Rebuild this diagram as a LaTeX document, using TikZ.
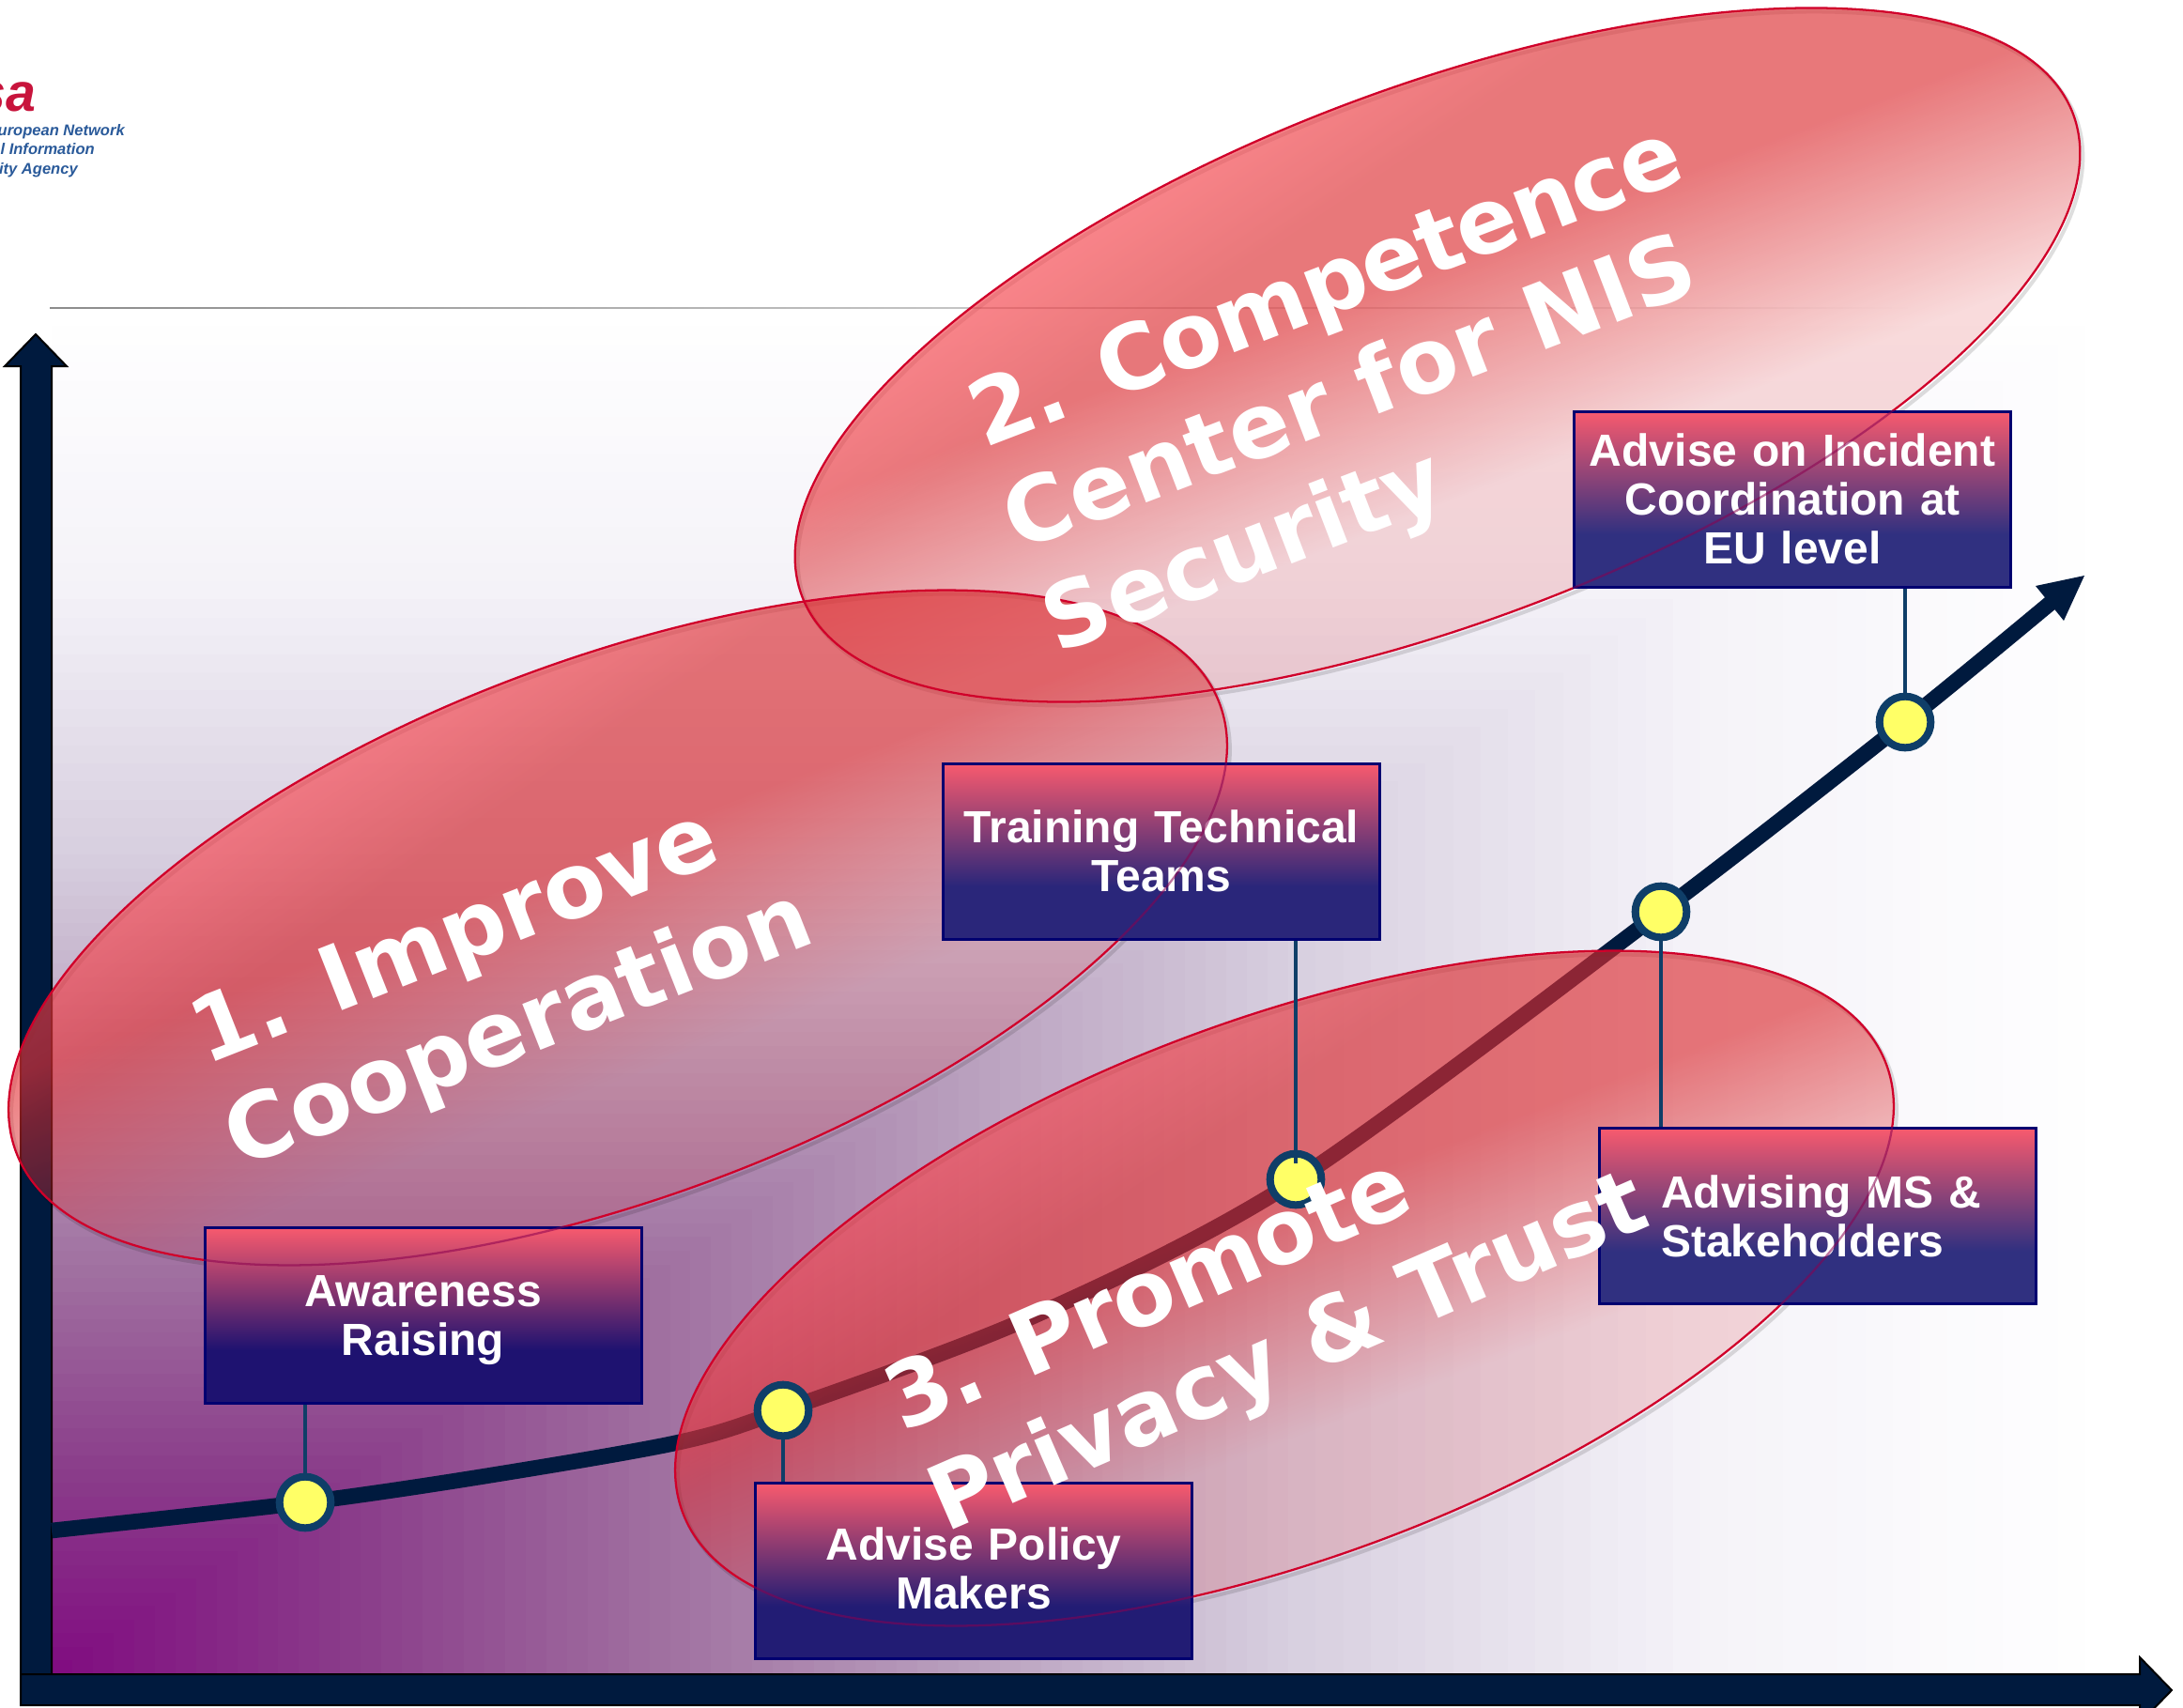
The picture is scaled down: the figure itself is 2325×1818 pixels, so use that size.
\documentclass[tikz,border=0pt]{standalone}
\usepackage{fontspec}
\setmainfont{Liberation Sans}
\newfontfamily\ellfont{DejaVu Sans}
\usetikzlibrary{fadings,calc}
\definecolor{axisnavy}{HTML}{001A3E}
\definecolor{ringblue}{HTML}{0F3E68}
\definecolor{dotyellow}{HTML}{FFFF66}
\definecolor{boxline}{HTML}{000070}
\definecolor{boxtop}{HTML}{F85A6E}
\definecolor{navya}{HTML}{1E1270}
\definecolor{navyb}{HTML}{2A267A}
\definecolor{navyc}{HTML}{303080}
\definecolor{navyd}{HTML}{221C74}
\definecolor{elltop}{HTML}{FF4650}
\definecolor{ellmid}{HTML}{DC2C30}
\definecolor{ellline}{HTML}{D0002A}
\definecolor{ellthru}{HTML}{8A0050}
\definecolor{bga}{RGB}{128,10,128}
\definecolor{bgb}{RGB}{138,60,138}
\definecolor{bgc}{RGB}{160,112,160}
\definecolor{bgd}{RGB}{185,160,190}
\definecolor{bge}{RGB}{214,205,222}
\definecolor{bgf}{RGB}{244,242,248}
\definecolor{logored}{HTML}{C8143C}
\definecolor{logoblue}{HTML}{2A5A9A}
\pgfdeclareverticalshading{boxsha}{100bp}{color(0bp)=(navya);color(40bp)=(navya);color(75bp)=(boxtop);color(100bp)=(boxtop)}
\pgfdeclareverticalshading{boxshb}{100bp}{color(0bp)=(navyb);color(40bp)=(navyb);color(75bp)=(boxtop);color(100bp)=(boxtop)}
\pgfdeclareverticalshading{boxshc}{100bp}{color(0bp)=(navyc);color(40bp)=(navyc);color(75bp)=(boxtop);color(100bp)=(boxtop)}
\pgfdeclareverticalshading{boxshd}{100bp}{color(0bp)=(navyd);color(40bp)=(navyd);color(75bp)=(boxtop);color(100bp)=(boxtop)}
\pgfdeclareverticalshading{ellshade}{100bp}{color(0bp)=(ellmid);color(59bp)=(ellmid);color(67bp)=(elltop);color(100bp)=(elltop)}
\pgfdeclareverticalshading{ellfadeshade}{100bp}{color(0bp)=(pgftransparent!83);color(42bp)=(pgftransparent!83);color(55bp)=(pgftransparent!36);color(100bp)=(pgftransparent!36)}
\pgfdeclarefading{ellfade}{\pgfuseshading{ellfadeshade}}
\tikzset{
  infobox/.style={draw=boxline,line width=2.25pt,inner sep=0pt,text=white,
    font=\bfseries\fontsize{36}{39}\selectfont,
    text width=348.75pt,minimum height=140.25pt,align=center},
  milestone/.style={circle,draw=ringblue,fill=dotyellow,line width=6pt,
    minimum size=41pt,inner sep=0pt},
  stem/.style={draw=ringblue,line width=3.5pt},
  bigword/.style={text=white,align=left,inner sep=0pt,
    font=\ellfont\bfseries\fontsize{72}{87}\selectfont},
  bubble/.style={shading=ellshade,shading angle=34,path fading=ellfade,fading angle=34},
  bubbleline/.style={draw=ellline,line width=1.7pt},
  bubbleshadow/.style={draw=black,line width=3pt,opacity=0.13},
  axisbar/.style={fill=axisnavy,draw=black,line width=1.5pt,line join=miter},
  logoline/.style={anchor=base east,inner sep=0pt,text=logoblue,
    font=\bfseries\itshape\fontsize{12.4}{15}\selectfont}
}
\newcommand\bgband[4]{%
  \foreach \k in {0,...,14}{%
    \pgfmathsetmacro\tv{#2-(#2-#1)*\k/15}%
    \pgfmathsetmacro\pc{100*\k/15}%
    \fill[#3!\pc!#4] (55,1783) rectangle ({55+2195*\tv},{1783-1455*\tv});
  }}
\newcommand\ellpath[5]{(#1,#2) ellipse [x radius=#3,y radius=#4,rotate=#5]}
\newcommand\ellfill[5]{%
  \begin{scope}
    \clip \ellpath{#1}{#2}{#3}{#4}{#5};
    \shade[bubble] (#1,#2) ellipse [x radius=#3+6,y radius=#4+6,rotate=#5];
  \end{scope}}
\newcommand\tracked[2]{{\addfontfeature{LetterSpace=#1}#2}}
\begin{document}
\begin{tikzpicture}[x=0.75pt,y=-0.75pt]
\useasboundingbox (0,0) rectangle (2325,1818);
\fill[white] (0,0) rectangle (2325,1818);
% background
\bgband{0.8}{1.0}{bgf}{white}
\bgband{0.6}{0.8}{bge}{bgf}
\bgband{0.45}{0.6}{bgd}{bge}
\bgband{0.3}{0.45}{bgc}{bgd}
\bgband{0.15}{0.3}{bgb}{bgc}
\bgband{0.0}{0.15}{bga}{bgb}
\shade[left color=gray!90,right color=white] (53,327.4) rectangle (2040,328.6);
% logo
\node[anchor=base east,inner sep=0pt,text=logored,font=\bfseries\itshape\fontsize{43}{43}\selectfont] (logoa) at (39,118) {sa};
\node[logoline] (logob) at (133,144) {uropean Network};
\node[logoline] (logoc) at (101,164) {l Information};
\node[logoline] (logod) at (83,185) {ity Agency};
% axes
\draw[axisbar] (22,1783) -- (22,390) -- (5,390) -- (38,356) -- (71,390) -- (55,390) -- (55,1783) -- cycle;
\draw[axisbar] (22,1783) -- (2279,1783) -- (2279,1765) -- (2313,1800) -- (2279,1835) -- (2279,1816) -- (22,1816) -- cycle;
% curve
\coordinate (curvestart) at (55,1630);
\coordinate (curveend) at (2190,637);
\draw[axisnavy,line width=12.5pt] plot[smooth,tension=0.5] coordinates {(curvestart) (325,1600) (517,1572) (723,1536) (834,1502) (1100,1402) (1380,1257) (1769,971) (2029,769) (curveend)};
\fill[axisnavy] (2220,613) -- (2168,624) -- (2198,661) -- cycle;
% bubbles
\draw[bubbleshadow] \ellpath{661}{992}{684}{287}{20.4};
\draw[bubbleshadow] \ellpath{1534}{382}{724}{284}{20.8};
\draw[bubbleshadow] \ellpath{1371}{1376}{684}{287}{20.4};
\ellfill{658}{988}{684}{287}{20.4}
\ellfill{1531}{378}{724}{284}{20.8}
\ellfill{1368}{1372}{684}{287}{20.4}
\draw[bubbleline] \ellpath{658}{988}{684}{287}{20.4};
\draw[bubbleline] \ellpath{1531}{378}{724}{284}{20.8};
\draw[bubbleline] \ellpath{1368}{1372}{684}{287}{20.4};
% boxes
\node[infobox,shading=boxsha] (aware) at (450.5,1400.5) {\rule{0pt}{33pt}Awareness\\Raising};
\node[infobox,shading=boxshb] (train) at (1237,906.5) {Training Technical\\Teams};
\node[infobox,shading=boxshc] (incid) at (1909,531.5) {Advise on Incident\\Coordination at\\EU level};
\node[infobox,shading=boxshc,align=left] (advis) at (1935.5,1295) {\hspace*{49.5pt}Advising MS \&\\\hspace*{49.5pt}Stakeholders};
\node[infobox,shading=boxshd] (polic) at (1037,1673) {Advise Policy\\Makers\rule[-4.5pt]{0pt}{4.5pt}};
% bubble outlines showing through the boxes
\begin{scope}
  \clip (aware.south west) rectangle (aware.north east)
        (train.south west) rectangle (train.north east)
        (incid.south west) rectangle (incid.north east)
        (advis.south west) rectangle (advis.north east)
        (polic.south west) rectangle (polic.north east);
  \draw[ellthru,line width=1.7pt,opacity=0.55] \ellpath{658}{988}{684}{287}{20.4};
  \draw[ellthru,line width=1.7pt,opacity=0.55] \ellpath{1531}{378}{724}{284}{20.8};
  \draw[ellthru,line width=1.7pt,opacity=0.55] \ellpath{1368}{1372}{684}{287}{20.4};
\end{scope}
% milestones
\node[milestone] (ma) at (325,1600) {};
\node[milestone] (mb) at (834,1502) {};
\node[milestone] (mc) at (1380,1256) {};
\node[milestone] (md) at (1769,971) {};
\node[milestone] (me) at (2029,769) {};
\coordinate (mctop) at (1380,1239);
\draw[stem] (aware.south -| ma) -- (ma.north);
\draw[stem] (polic.north -| mb) -- (mb.south);
\draw[stem] (train.south -| mc) -- (mctop);
\draw[stem] (advis.north -| md) -- (md.south);
\draw[stem] (incid.south -| me) -- (me.north);
% bubble words
\node[bigword,rotate=21.5] (wa) at (533,1046) {\hspace*{5pt}1. Improve\\Cooperation};
\node[bigword,rotate=21] (wb) at (1452,420) {\hspace*{6pt}\tracked{-1.5}{2. Competence}\\\hspace*{2pt}\tracked{1}{Center for NIS}\\\hspace*{2pt}Security};
\node[bigword,rotate=23.5] (wc) at (1351,1392) {\tracked{-1.3}{3. Promote}\\Privacy \& Trust};
\end{tikzpicture}
\end{document}
